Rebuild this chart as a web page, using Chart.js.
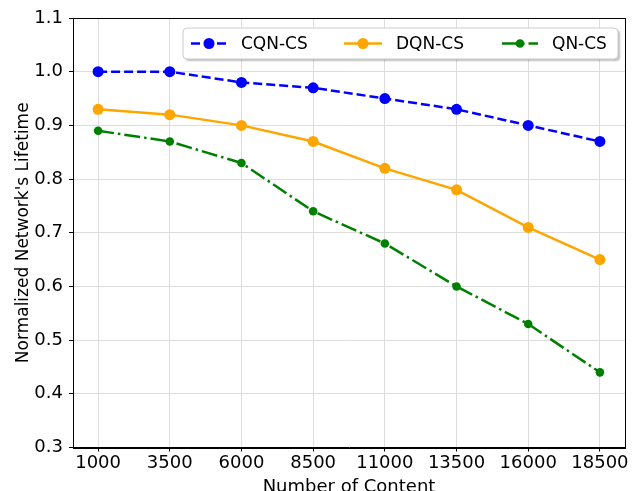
<!DOCTYPE html>
<html>
<head>
<meta charset="utf-8">
<script src="https://cdn.jsdelivr.net/npm/chart.js@4"></script>
<style>
  html, body { margin: 0; padding: 0; background: #fff; }
  #wrap { width: 632px; height: 491px; }
</style>
</head>
<body>
<div id="wrap"><canvas id="lifetimeChart" width="632" height="491"></canvas></div>
<script>
// Number of content items on the x axis
const contentSizes = [1000, 3500, 6000, 8500, 11000, 13500, 16000, 18500];
// Normalized lifetime for each scheme
const cqnValues = [1.00, 1.00, 0.98, 0.97, 0.95, 0.93, 0.90, 0.87];
const dqnValues = [0.93, 0.92, 0.90, 0.87, 0.82, 0.78, 0.71, 0.65];
const qnValues = [0.89, 0.87, 0.83, 0.74, 0.68, 0.60, 0.53, 0.44];
const yTicks = [0.3, 0.4, 0.5, 0.6, 0.7, 0.8, 0.9, 1.0, 1.1];

const FONT = "'DejaVu Sans', sans-serif";

function toPoints(values) {
    return values.map((v, i) => ({ x: contentSizes[i], y: v }));
}

// frame around the plot area + a boxed legend with line/marker samples
const framePlugin = {
    id: "frame",
    afterDraw(chart) {
        const ctx = chart.ctx;
        const a = chart.chartArea;
        ctx.save();
        ctx.strokeStyle = "#000";
        ctx.lineWidth = 1;
        ctx.strokeRect(Math.round(a.left) + 0.5, Math.round(a.top) + 0.5,
            Math.round(a.right - a.left), Math.round(a.bottom - a.top));

        // legend box
        const bx = 183, by = 28, bw = 435, bh = 31;
        ctx.shadowColor = "rgba(0,0,0,0.25)";
        ctx.shadowOffsetX = 2;
        ctx.shadowOffsetY = 2;
        ctx.shadowBlur = 2;
        ctx.beginPath();
        ctx.roundRect(bx, by, bw, bh, 4);
        ctx.fillStyle = "#fff";
        ctx.fill();
        ctx.shadowColor = "transparent";
        ctx.strokeStyle = "#cccccc";
        ctx.stroke();

        const entries = [
            { x0: 191, x1: 227, tx: 241 },
            { x0: 344, x1: 382, tx: 396 },
            { x0: 502, x1: 538, tx: 552 }
        ];
        const cy = by + bh / 2;
        chart.data.datasets.forEach((ds, i) => {
            const e = entries[i];
            ctx.strokeStyle = ds.borderColor;
            ctx.lineWidth = ds.borderWidth;
            ctx.setLineDash(ds.borderDash || []);
            ctx.beginPath();
            ctx.moveTo(e.x0, cy);
            ctx.lineTo(e.x1, cy);
            ctx.stroke();
            ctx.setLineDash([]);
            ctx.beginPath();
            ctx.arc((e.x0 + e.x1) / 2, cy, ds.pointRadius, 0, Math.PI * 2);
            ctx.fillStyle = ds.borderColor;
            ctx.fill();
            ctx.fillStyle = "#000";
            ctx.font = "17px " + FONT;
            ctx.textBaseline = "middle";
            ctx.fillText(ds.label, e.tx, cy + 1);
        });
        ctx.restore();
    }
};

const ctx = document.getElementById("lifetimeChart").getContext("2d");

new Chart(ctx, {
    type: "line",
    data: {
        datasets: [{
            label: "CQN-CS",
            data: toPoints(cqnValues),
            borderColor: "#0000ff",
            backgroundColor: "#0000ff",
            borderWidth: 2.5,
            borderDash: [9, 4],
            pointRadius: 5.5,
            pointBorderWidth: 0
        }, {
            label: "DQN-CS",
            data: toPoints(dqnValues),
            borderColor: "#ffa500",
            backgroundColor: "#ffa500",
            borderWidth: 2.5,
            pointRadius: 5.5,
            pointBorderWidth: 0
        }, {
            label: "QN-CS",
            data: toPoints(qnValues),
            borderColor: "#008000",
            backgroundColor: "#008000",
            borderWidth: 2.5,
            borderDash: [16, 4, 2.5, 4],
            pointRadius: 4.3,
            pointBorderWidth: 0
        }]
    },
    options: {
        responsive: false,
        animation: false,
        layout: { padding: { top: 18, right: 7, left: 0, bottom: 0 } },
        plugins: {
            legend: { display: false },
            tooltip: { enabled: false }
        },
        scales: {
            x: {
                type: "linear",
                min: 125,
                max: 19375,
                afterBuildTicks(scale) {
                    scale.ticks = contentSizes.map(v => ({ value: v }));
                },
                afterFit(scale) { scale.height = 43.5; },
                ticks: {
                    color: "#000",
                    font: { family: FONT, size: 18 },
                    padding: 1,
                    maxRotation: 0,
                    autoSkip: false,
                    callback: v => String(v)
                },
                grid: { color: "#dddddd", tickColor: "#000", tickLength: 4 },
                border: { color: "#000" },
                title: {
                    display: true,
                    text: "Number of Content",
                    color: "#000",
                    font: { family: FONT, size: 18 },
                    padding: { top: 0, bottom: -7 }
                }
            },
            y: {
                min: 0.3,
                max: 1.1,
                afterBuildTicks(scale) {
                    scale.ticks = yTicks.map(v => ({ value: v }));
                },
                afterFit(scale) { scale.width = 73; },
                ticks: {
                    color: "#000",
                    font: { family: FONT, size: 18 },
                    padding: 6,
                    callback: v => v.toFixed(1)
                },
                grid: { color: "#dddddd", tickColor: "#000", tickLength: 4 },
                border: { color: "#000" },
                title: {
                    display: true,
                    text: "Normalized Network's Lifetime",
                    color: "#000",
                    font: { family: FONT, size: 17 },
                    padding: { top: 13, bottom: 0 }
                }
            }
        }
    },
    plugins: [framePlugin]
});
</script>
</body>
</html>
